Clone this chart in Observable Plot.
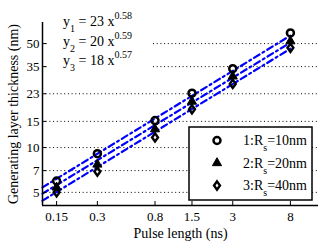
<!DOCTYPE html>
<html><head><meta charset="utf-8">
<script src="https://cdn.jsdelivr.net/npm/d3@7"></script>
<script src="https://cdn.jsdelivr.net/npm/@observablehq/plot@0.6"></script>
<style>html,body{margin:0;padding:0;background:#fff} svg{display:block}</style>
</head><body><div id="chart"></div>
<script>
// ---- data ----
const pulse = [0.15, 0.3, 0.8, 1.5, 3, 8];
const thick1 = [5.96, 9.1, 15.2, 23.2, 33.9, 59];
const thick2 = [5.4, 7.7, 13.3, 20.4, 30.1, 51.9];
const thick3 = [5.0, 6.9, 11.7, 18.1, 26.8, 46.8];
const fitX = [0.118, 8];
const fit1 = [5.4, 56.6];
const fit2 = [4.9, 50.8];
const fit3 = [4.4, 46.2];
const xTicks = [0.15, 0.3, 0.8, 1.5, 3, 8];
const xTickLabels = ["0.15", "0.3", "0.8", "1.5", "3", "8"];
const yTicks = [5, 7, 10, 15, 23, 35, 50];
const seriesIds = ["1", "2", "3"];
const rsLabels = ["10nm", "20nm", "40nm"];
const coefs = ["23", "20", "18"];
const exps = ["0.58", "0.59", "0.57"];
const xLabel = "Pulse length (ns)";
const yLabel = "Generating layer thickness (nm)";

const thick = [thick1, thick2, thick3];
const fits = [fit1, fit2, fit3];
const pts = seriesIds.flatMap((s, i) => pulse.map((x, j) => ({s, x, y: thick[i][j]})));
const fitData = seriesIds.flatMap((s, i) => fitX.map((x, j) => ({s, x, y: fits[i][j]})));
const xTickData = xTicks.map((x, i) => ({x, label: xTickLabels[i]}));

const diamond = {draw(ctx, size) {
  const r = Math.sqrt(size / Math.PI);
  const h = r * 1.25, w = r * 0.9;
  ctx.moveTo(0, -h); ctx.lineTo(w, 0); ctx.lineTo(0, h); ctx.lineTo(-w, 0); ctx.closePath();
}};

const xDom = [0.118, 12.9], yDom = [4.08, 69.3];
const serif = "'Liberation Serif', 'Times New Roman', serif";

const chart = Plot.plot({
  width: 328, height: 243,
  marginLeft: 42, marginRight: 10, marginTop: 22, marginBottom: 38,
  style: {fontFamily: serif, fontSize: "13px", color: "#000", background: "#fff"},
  x: {type: "log", domain: xDom},
  y: {type: "log", domain: yDom},
  marks: [
    Plot.ruleY(yTicks, {stroke: "#000", strokeWidth: 1, strokeDasharray: "1,2.7"}),
    Plot.line(fitData, {x: "x", y: "y", z: "s", stroke: "#0000ff", strokeWidth: 2.2, strokeDasharray: "6.5,3.5,2,3.5"}),
    Plot.dot(pts.filter(d => d.s === "1"), {x: "x", y: "y", symbol: "circle", r: 3.5, stroke: "#000", strokeWidth: 2.5, fill: "none"}),
    Plot.dot(pts.filter(d => d.s === "2"), {x: "x", y: "y", symbol: "triangle", r: 3.4, stroke: "#000", strokeWidth: 1, fill: "#000"}),
    Plot.dot(pts.filter(d => d.s === "3"), {x: "x", y: "y", symbol: diamond, r: 3.3, stroke: "#000", strokeWidth: 2.4, fill: "none"}),
    Plot.text(xTickData, {x: "x", text: "label", frameAnchor: "bottom", lineAnchor: "top", dy: 6, fontSize: 13, fill: "#000"}),
    Plot.axisX({ticks: [], tickSize: 0, label: xLabel, labelAnchor: "center", labelArrow: "none", labelOffset: 32}),
    Plot.axisX({ticks: xTicks, tickSize: 4, dy: -4, text: null, label: null, strokeWidth: 1}),
    Plot.axisY({ticks: yTicks, tickSize: 0, tickPadding: 3, tickFormat: d => String(d), fontSize: 13,
      label: yLabel, labelAnchor: "center", labelArrow: "none", labelOffset: 34}),
    Plot.axisY({ticks: yTicks, tickSize: 4, dx: 4, text: null, label: null, strokeWidth: 1}),
    Plot.ruleX([xDom[0]], {stroke: "#000", strokeWidth: 1.5}),
    Plot.ruleY([yDom[0]], {stroke: "#000", strokeWidth: 1.5})
  ]
});
document.getElementById("chart").appendChild(chart);

const svg = d3.select(chart);
svg.selectAll("[aria-label='x-axis label'] text, [aria-label='y-axis label'] text").style("font-size", "14px");

// annotation with fitted laws
const ann = svg.append("g").attr("font-family", serif).attr("font-size", 14).attr("fill", "#000").attr("text-anchor", "start");
ann.append("rect").attr("x", 47).attr("y", 6).attr("width", 106).attr("height", 70).attr("fill", "#fff");
coefs.forEach((c, i) => {
  const t = ann.append("text").attr("x", 63).attr("y", 26 + i * 19.5).attr("text-anchor", "start");
  t.append("tspan").text("y");
  t.append("tspan").attr("font-size", 10).attr("dy", 6).text(seriesIds[i]);
  t.append("tspan").attr("dy", -6).text(" = " + c + " x");
  t.append("tspan").attr("font-size", 10).attr("dy", -7).text(exps[i]);
});

// legend
const leg = svg.append("g").attr("font-family", serif).attr("font-size", 14).attr("text-anchor", "start");
leg.append("rect").attr("x", 189).attr("y", 127).attr("width", 123).attr("height", 73)
  .attr("fill", "#fff").attr("stroke", "#000").attr("stroke-width", 1.5);
const syms = [d3.symbolCircle, d3.symbolTriangle, diamond];
const rs = [3.5, 3.4, 3.3];
seriesIds.forEach((s, i) => {
  const cy = 140.5 + i * 22.5;
  const path = d3.symbol(syms[i], Math.PI * rs[i] * rs[i])();
  const p = leg.append("path").attr("d", path).attr("transform", `translate(217,${cy})`);
  if (i === 0) p.attr("fill", "none").attr("stroke", "#000").attr("stroke-width", 2.5);
  if (i === 1) p.attr("fill", "#000").attr("stroke", "#000").attr("stroke-width", 1);
  if (i === 2) p.attr("fill", "none").attr("stroke", "#000").attr("stroke-width", 2.4);
  const t = leg.append("text").attr("x", 243).attr("y", cy + 4.5).attr("text-anchor", "start");
  t.append("tspan").text(s + ":R");
  t.append("tspan").attr("font-size", 10).attr("dy", 6).text("s");
  t.append("tspan").attr("dy", -6).text("=" + rsLabels[i]);
});
</script></body></html>
